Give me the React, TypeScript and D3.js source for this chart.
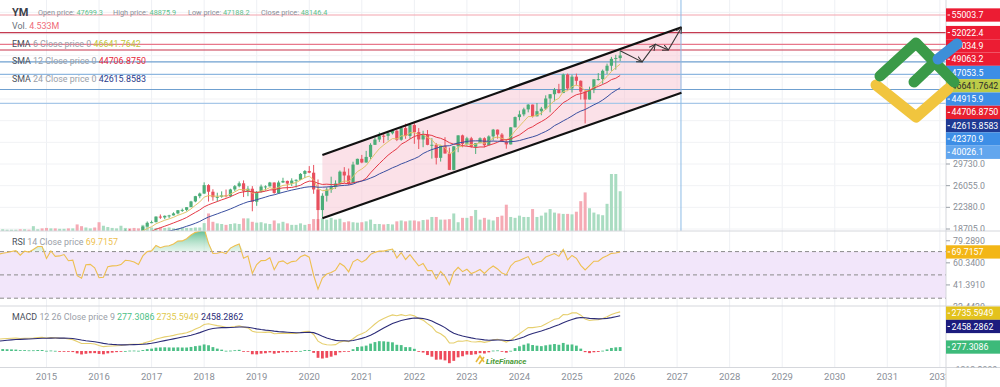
import React from "react";
import * as d3 from "d3";

// ---------- DATA (monthly YM, Jan 2012 .. Dec 2025) ----------
const firstYear = 2012;
const yearTicks = [2015, 2016, 2017, 2018, 2019, 2020, 2021, 2022, 2023, 2024, 2025, 2026, 2027, 2028, 2029, 2030, 2031, 2032];

const open = [
  12221, 12632, 12952, 13212, 13214, 12391, 12880, 13009, 13091, 13437, 13096, 13026,
  13104, 13861, 14054, 14579, 14840, 15116, 14910, 15500, 14810, 15130, 15546, 16086,
  16577, 15699, 16322, 16458, 16581, 16717, 16827, 16563, 17098, 17043, 17391, 17828,
  17823, 17165, 18133, 17776, 17841, 18011, 17620, 17690, 16528, 16285, 17664, 17720,
  17425, 16466, 16517, 17685, 17774, 17787, 17930, 18432, 18401, 18308, 18142, 19124,
  19763, 19864, 20812, 20663, 20941, 21009, 21350, 21891, 21948, 22405, 23377, 24272,
  24719, 26149, 25029, 24103, 24163, 24416, 24271, 25415, 25965, 26458, 25116, 25538,
  23327, 24999, 25916, 25929, 26593, 24815, 26600, 26864, 26403, 26917, 27046, 28051,
  28538, 28256, 25409, 21917, 24346, 25383, 25813, 26428, 28430, 27782, 26502, 29638,
  30606, 29983, 30932, 32982, 33875, 34529, 34503, 34935, 35361, 33844, 35820, 34484,
  36338, 35132, 33893, 34678, 32977, 32990, 30775, 32845, 31510, 28726, 32733, 34590,
  33147, 34086, 32657, 33274, 34098, 32908, 34408, 35560, 34722, 33508, 33053, 35951,
  37690, 38150, 38996, 39807, 37816, 38686, 39119, 40843, 41563, 42330, 41763, 44911,
  42544, 44545, 43841, 42002, 40669, 42270, 44095, 44131, 45545, 46398, 47563, 47699.3,
];
const high = [
  12842, 13055, 13290, 13309, 13338, 12898, 13159, 13331, 13653, 13661, 13290, 13365,
  13969, 14150, 14585, 14888, 15542, 15340, 15634, 15658, 15710, 15722, 16174, 16589,
  16588, 16398, 16589, 16631, 16736, 16978, 17152, 17153, 17350, 17395, 17895, 18103,
  17951, 18244, 18289, 18175, 18351, 18105, 18137, 17750, 16934, 17800, 17978, 17900,
  17425, 16752, 17716, 18168, 17935, 18016, 18622, 18668, 18450, 18400, 19226, 19987,
  20126, 20851, 21169, 21006, 21113, 21535, 21929, 22179, 22420, 23485, 24328, 24876,
  26617, 26307, 25450, 24858, 25087, 25402, 25539, 26168, 26769, 26951, 25980, 25980,
  25149, 26242, 26110, 26696, 26605, 26907, 27398, 26918, 27306, 27130, 28175, 28701,
  29374, 29568, 27102, 24765, 25758, 27580, 26955, 28630, 29199, 28958, 30117, 30637,
  31272, 31961, 33259, 34257, 35091, 34849, 35171, 35631, 35510, 35892, 36565, 36679,
  36952, 35824, 35372, 35493, 34118, 33272, 32846, 34282, 32504, 32772, 34590, 34712,
  34342, 34335, 33273, 34257, 34257, 34589, 35679, 35578, 34979, 33965, 35989, 37778,
  38783, 39282, 39889, 39807, 40077, 39417, 41376, 41585, 42628, 43325, 45074, 45073,
  44882, 45054, 43922, 42250, 42842, 44095, 45152, 45757, 46758, 47900, 48254, 48875.9,
];
const low = [
  12221, 12630, 12746, 12710, 12035, 12101, 12492, 12915, 12977, 12999, 12471, 12884,
  13104, 13745, 14054, 14434, 14740, 14551, 14910, 14760, 14777, 14720, 15340, 15703,
  15699, 15340, 16016, 16015, 16334, 16659, 16563, 16333, 16945, 15855, 17240, 17067,
  17136, 17038, 17585, 17675, 17825, 17596, 17465, 15370, 15942, 16013, 17320, 17139,
  15450, 15503, 16510, 17484, 17331, 17063, 17713, 18289, 17992, 17959, 17883, 19121,
  19678, 19832, 20413, 20379, 20554, 20999, 21197, 21600, 21709, 22416, 23242, 23922,
  24660, 23360, 23509, 23345, 23998, 24052, 24083, 25124, 25770, 24123, 24268, 21713,
  22638, 24883, 25208, 25929, 24680, 24680, 26510, 25339, 25979, 25743, 27046, 27326,
  28170, 24681, 18213, 20735, 23361, 24843, 25523, 26130, 26537, 26143, 26502, 29638,
  29856, 29983, 30547, 32982, 33473, 33272, 33741, 34741, 33613, 33677, 34006, 34006,
  33150, 32272, 32578, 32913, 30636, 29653, 30143, 31508, 28715, 28661, 31727, 32573,
  32812, 32500, 31430, 33235, 32586, 32908, 33705, 34029, 33460, 32327, 33053, 35951,
  37122, 37824, 38487, 37612, 37816, 38004, 38904, 38499, 40348, 41690, 41763, 42232,
  41845, 43041, 40661, 36612, 40669, 41750, 43899, 43340, 45000, 45540, 45728, 47188.2,
];
const close = [
  12633, 12952, 13212, 13214, 12393, 12880, 13009, 13091, 13437, 13096, 13026, 13104,
  13861, 14054, 14579, 14840, 15116, 14910, 15500, 14810, 15130, 15546, 16086, 16577,
  15699, 16322, 16458, 16581, 16717, 16827, 16563, 17098, 17043, 17391, 17828, 17823,
  17165, 18133, 17776, 17841, 18011, 17620, 17690, 16528, 16285, 17664, 17720, 17425,
  16466, 16517, 17685, 17774, 17787, 17930, 18432, 18401, 18308, 18142, 19124, 19763,
  19864, 20812, 20663, 20941, 21009, 21350, 21891, 21948, 22405, 23377, 24272, 24719,
  26149, 25029, 24103, 24163, 24416, 24271, 25415, 25965, 26458, 25116, 25538, 23327,
  24999, 25916, 25929, 26593, 24815, 26600, 26864, 26403, 26917, 27046, 28051, 28538,
  28256, 25409, 21917, 24346, 25383, 25813, 26428, 28430, 27782, 26502, 29638, 30606,
  29983, 30932, 32982, 33875, 34529, 34503, 34935, 35361, 33844, 35820, 34484, 36338,
  35132, 33893, 34678, 32977, 32990, 30775, 32845, 31510, 28726, 32733, 34590, 33147,
  34086, 32657, 33274, 34098, 32908, 34408, 35560, 34722, 33508, 33053, 35951, 37690,
  38150, 38996, 39807, 37816, 38686, 39119, 40843, 41563, 42330, 41763, 44911, 42544,
  44545, 43841, 42002, 40669, 42270, 44095, 44131, 45545, 46398, 47563, 47716, 48146.4,
];
// volume in millions
const volume = [
  0.2, 0.2, 0.2, 0.2, 0.2, 0.2, 0.2, 0.2, 0.2, 0.2, 0.2, 0.2,
  0.2, 0.2, 0.2, 0.2, 0.2, 0.2, 0.2, 0.2, 0.2, 0.2, 0.2, 0.2,
  0.2, 0.2, 0.2, 0.15, 0.15, 0.15, 0.2, 0.2, 0.15, 0.55, 0.2, 0.3,
  0.35, 0.3, 0.3, 0.25, 0.25, 0.3, 0.3, 0.75, 0.55, 0.4, 0.3, 0.4,
  1.0, 0.6, 0.45, 0.35, 0.3, 0.6, 0.35, 0.3, 0.35, 0.3, 0.7, 0.6,
  0.4, 0.35, 0.4, 0.35, 0.4, 0.3, 0.3, 0.4, 0.35, 0.35, 0.4, 0.4,
  0.9, 2.0, 1.05, 0.87, 0.8, 0.7, 0.8, 0.87, 0.8, 1.44, 1.44, 1.05,
  0.95, 1.0, 0.87, 0.8, 1.2, 0.87, 1.05, 0.87, 0.7, 0.7, 0.87, 0.7,
  0.8, 1.36, 1.36, 1.44, 1.3, 1.5, 1.3, 1.4, 1.0, 1.1, 1.0, 0.95,
  1.0, 1.1, 1.3, 0.8, 0.8, 0.75, 0.8, 0.75, 1.1, 1.2, 1.1, 1.2,
  1.2, 1.1, 1.25, 1.3, 1.6, 1.6, 1.3, 1.3, 1.35, 2.0, 1.0, 1.5,
  1.5, 1.7, 2.4, 1.3, 1.5, 1.3, 1.2, 1.6, 1.75, 3.0, 1.6, 1.5,
  1.75, 1.6, 1.6, 2.5, 1.6, 1.75, 2.1, 2.5, 2.1, 2.0, 1.95, 1.95,
  1.9, 2.2, 3.4, 4.4, 2.6, 2.1, 1.9, 1.8, 3.1, 6.5, 6.5, 4.533,
];

// horizontal levels drawn on the chart
const levelPrices = [55003.7, 52022.4, 50034.9, 49063.2, 47053.5, 44915.9, 42370.9, 40026.1];
const levelKinds = ["red", "red", "red", "red", "blue", "blue", "blue", "blue"];
// trend channel (month index from Jan 2012, price)
const channelUpper = [[99, 31255], [181, 52913]];
const channelLower = [[99, 20520], [181, 41822]];
// forecast path
const forecastPath = [[167, 48945], [172, 47053], [175, 50035], [178, 49063], [181, 52900]];
// values printed in legends
const header = { open: "47699.3", high: "48875.9", low: "47188.2", close: "48146.4", vol: "4.533M" };
const emaLast = 46641.7642, sma12Last = 44706.875, sma24Last = 42615.8583;
const rsiLast = 69.7157;
const macdLast = 2735.5949, signalLast = 2458.2862, histLast = 277.3086;
const priceTicks = [18705.0, 22380.0, 26055.0, 29730.0];
const rsiTicks = [79.289, 60.34, 41.391, 22.442];
const macdTicks = [-1313.299];

// ---------- indicators ----------
function sma(a: number[], n: number) {
  return a.map((_, i) => (i < n - 1 ? null : d3.mean(a.slice(i - n + 1, i + 1)) as number));
}
function ema(a: number[], n: number) {
  const k = 2 / (n + 1);
  const out: number[] = [];
  a.forEach((v, i) => out.push(i === 0 ? v : v * k + out[i - 1] * (1 - k)));
  return out;
}
function rsi(a: number[], n: number) {
  const out: (number | null)[] = a.map(() => null);
  let g = 0, l = 0;
  for (let i = 1; i <= n; i++) { const d = a[i] - a[i - 1]; if (d > 0) g += d; else l -= d; }
  g /= n; l /= n;
  out[n] = 100 - 100 / (1 + g / l);
  for (let i = n + 1; i < a.length; i++) {
    const d = a[i] - a[i - 1];
    g = (g * (n - 1) + Math.max(d, 0)) / n;
    l = (l * (n - 1) + Math.max(-d, 0)) / n;
    out[i] = l === 0 ? 100 : 100 - 100 / (1 + g / l);
  }
  return out;
}

const FONT = "Roboto, Arial, sans-serif";
const AX = 946;
const MAIN_B = 231, RSI_T = 231, RSI_B = 306, MACD_T = 306, MACD_B = 367.5;
const GREEN = "#4cad78", RED = "#e8505e";
const VGREEN = "#a9dcc1", VRED = "#f5aab4";
const LEVEL_COL: Record<string, string[]> = {
  red: ["#f4a3ae", "#c43a50", "#e8788b", "#c8354d"],
  blue: ["#6fa0d0", "#8fb8e0", "#6fa0d0", "#a8c8e8"],
};

export default function App() {
  const n = close.length;
  const idx = d3.range(n);
  const x = d3.scaleLinear().domain([36, 48]).range([46.5, 99.05]);
  const y = d3.scaleLinear().domain([18705, 55003.7]).range([229, 15]);
  const yV = d3.scaleLinear().domain([0, 6.5]).range([MAIN_B, 174]);
  const yR = d3.scaleLinear().domain([30, 70]).range([298.2, 251.6]);
  const yM = d3.scaleLinear().domain([0, 2800]).range([351, 311]);

  const ema6 = ema(close, 6);
  const s12 = sma(close, 12);
  const s24 = sma(close, 24);
  const r = rsi(close, 14);
  const e12 = ema(close, 12), e26 = ema(close, 26);
  const macd = e12.map((v, i) => v - e26[i]);
  const sig = ema(macd, 9);
  const hist = macd.map((v, i) => v - sig[i]);

  const lineP = (sc: any) =>
    d3.line<number | null>().defined((v) => v != null).x((_, i) => x(i)).y((v) => sc(v as number));

  const rsiArea = d3.area<number | null>()
    .defined((v) => v != null)
    .x((_, i) => x(i))
    .y0(yR(70))
    .y1((v) => yR(Math.max(v as number, 70)));

  // right-axis boxes, stacked to avoid overlap
  const boxes = [
    ...levelPrices.map((p, i) => ({
      v: p, text: p.toFixed(1),
      bg: levelKinds[i] === "red" ? "#ec1c33" : (p < 41000 ? "#62a6ee" : "#3d8ee6"), fg: "#fff",
    })),
    { v: emaLast, text: emaLast.toFixed(4), bg: "#bccb48", fg: "#2b2b2b" },
    { v: sma12Last, text: sma12Last.toFixed(4), bg: "#e8202f", fg: "#fff" },
    { v: sma24Last, text: sma24Last.toFixed(4), bg: "#1f3a93", fg: "#fff" },
  ].sort((a, b) => b.v - a.v);
  const BH = 13.3;
  let prev = -100;
  const placed = boxes.map((b) => {
    const yy = Math.max(y(b.v), prev + BH);
    prev = yy;
    return { ...b, y: yy };
  });

  const macdBoxes = [
    { v: macdLast, text: macdLast.toFixed(4), bg: "#e3c21c", fg: "#fff" },
    { v: signalLast, text: signalLast.toFixed(4), bg: "#1c1c7e", fg: "#fff" },
    { v: histLast, text: histLast.toFixed(4), bg: "#3dba7a", fg: "#fff" },
  ];
  let prevM = MACD_T - BH / 2 + 0.5;
  const placedM = macdBoxes.map((b) => {
    const yy = Math.max(yM(b.v), prevM + BH);
    prevM = yy;
    return { ...b, y: yy };
  });

  const yearX = (yr: number) => x((yr - firstYear) * 12);
  const priceGrid = d3.range(0, 11).map((k) => 18705 + k * 3675);
  const BF = 8.8;

  return (
    <svg width={1000} height={387} style={{ position: "absolute", left: 0, top: 0, background: "#fff" }} fontFamily={FONT}>
      <defs>
        <clipPath id="cMain"><rect x={0} y={0} width={AX} height={MAIN_B} /></clipPath>
        <clipPath id="cRsi"><rect x={0} y={RSI_T} width={AX} height={RSI_B - RSI_T} /></clipPath>
        <clipPath id="cMacd"><rect x={0} y={MACD_T} width={AX} height={MACD_B - MACD_T} /></clipPath>
        <clipPath id="cAxisMain"><rect x={AX} y={0} width={60} height={MAIN_B} /></clipPath>
        <clipPath id="cAxisRsi"><rect x={AX} y={RSI_T} width={60} height={RSI_B - RSI_T} /></clipPath>
        <clipPath id="cAxisMacd"><rect x={AX} y={MACD_T} width={60} height={MACD_B - MACD_T} /></clipPath>
        <clipPath id="cX"><rect x={0} y={MACD_B} width={AX} height={30} /></clipPath>
        <linearGradient id="gRsi" x1="0" y1="0" x2="0" y2="1">
          <stop offset="0" stopColor="#2fa86e" stopOpacity={0.85} />
          <stop offset="1" stopColor="#bfe8d2" stopOpacity={0.4} />
        </linearGradient>
        <marker id="ah" markerWidth={7} markerHeight={7} refX={6} refY={3.5} orient="auto" markerUnits="userSpaceOnUse">
          <path d="M0,0.5 L6,3.5 L0,6.5" fill="none" stroke="#333" strokeWidth={1} />
        </marker>
      </defs>

      {/* vertical year grid */}
      {yearTicks.map((yr) => (
        <line key={"vg" + yr} x1={yearX(yr)} x2={yearX(yr)} y1={0} y2={MACD_B} stroke="#eef0f4" strokeWidth={1} />
      ))}

      {/* ---------- MAIN PANE ---------- */}
      <g clipPath="url(#cMain)">
        {priceGrid.map((p) => (
          <line key={"hg" + p} x1={0} x2={AX} y1={y(p)} y2={y(p)} stroke="#f1f2f5" />
        ))}
        {/* channel fill */}
        <path
          d={`M${x(channelUpper[0][0])},${y(channelUpper[0][1])} L${x(channelUpper[1][0])},${y(channelUpper[1][1])} L${x(channelLower[1][0])},${y(channelLower[1][1])} L${x(channelLower[0][0])},${y(channelLower[0][1])} Z`}
          fill="#f7c9d6" fillOpacity={0.55}
        />
        {/* levels */}
        {levelPrices.map((p, i) => (
          <line key={"lv" + i} x1={0} x2={AX} y1={y(p)} y2={y(p)}
            stroke={LEVEL_COL[levelKinds[i]][i % 4]} strokeWidth={1.2} />
        ))}
        {/* vertical marker */}
        <line x1={x(channelUpper[1][0]) - 0.5} x2={x(channelUpper[1][0]) - 0.5} y1={0} y2={MAIN_B} stroke="#8dbbe6" strokeWidth={1} />
        {/* volume */}
        {idx.map((i) => (
          <rect key={"v" + i} x={x(i) - 1.5} width={3} y={yV(volume[i])} height={MAIN_B - yV(volume[i])}
            fill={close[i] >= open[i] ? VGREEN : VRED} />
        ))}
        {/* candles */}
        {idx.map((i) => {
          const up = close[i] >= open[i];
          const c = up ? GREEN : RED;
          const top = y(Math.max(open[i], close[i]));
          const bot = y(Math.min(open[i], close[i]));
          return (
            <g key={"c" + i}>
              <line x1={x(i)} x2={x(i)} y1={y(high[i])} y2={y(low[i])} stroke={c} strokeWidth={1} />
              <rect x={x(i) - 1.6} width={3.2} y={top} height={Math.max(1, bot - top)} fill={c} />
            </g>
          );
        })}
        {/* moving averages */}
        <path d={lineP(y)(ema6) || ""} fill="none" stroke="#e2c46a" strokeWidth={1} />
        <path d={lineP(y)(s12) || ""} fill="none" stroke="#e53946" strokeWidth={1} />
        <path d={lineP(y)(s24) || ""} fill="none" stroke="#3a4fa0" strokeWidth={1} />
        {/* channel lines */}
        <line x1={x(channelUpper[0][0])} y1={y(channelUpper[0][1])} x2={x(channelUpper[1][0])} y2={y(channelUpper[1][1])} stroke="#111" strokeWidth={2.2} />
        <line x1={x(channelLower[0][0])} y1={y(channelLower[0][1])} x2={x(channelLower[1][0])} y2={y(channelLower[1][1])} stroke="#111" strokeWidth={2.2} />
        {/* forecast path */}
        {forecastPath.slice(1).map((pt, k) => (
          <line key={"fp" + k} x1={x(forecastPath[k][0])} y1={y(forecastPath[k][1])} x2={x(pt[0])} y2={y(pt[1])}
            stroke="#333" strokeWidth={1.1} markerEnd="url(#ah)" />
        ))}
      </g>

      {/* ---------- RSI PANE ---------- */}
      <g clipPath="url(#cRsi)">
        <rect x={0} width={AX} y={yR(70)} height={yR(30) - yR(70)} fill="#f2e6fa" />
        {[70, 50, 30].map((v) => (
          <line key={"rl" + v} x1={0} x2={AX} y1={yR(v)} y2={yR(v)} stroke="#8a8a8a" strokeDasharray="4,3" strokeWidth={1} />
        ))}
        <path d={rsiArea(r) || ""} fill="url(#gRsi)" />
        <path d={lineP(yR)(r) || ""} fill="none" stroke="#eebf4f" strokeWidth={1.1} />
      </g>

      {/* ---------- MACD PANE ---------- */}
      <g clipPath="url(#cMacd)">
        {idx.map((i) => (
          <rect key={"h" + i} x={x(i) - 1.4} width={2.8}
            y={Math.min(yM(hist[i]), yM(0))} height={Math.max(0.8, Math.abs(yM(hist[i]) - yM(0)))}
            fill={hist[i] >= 0 ? "#4cbf86" : "#ee4a5b"} />
        ))}
        <path d={lineP(yM)(macd) || ""} fill="none" stroke="#e6cf6e" strokeWidth={1.1} />
        <path d={lineP(yM)(sig) || ""} fill="none" stroke="#2c2c78" strokeWidth={1.1} />
        <text x={486} y={364} fontSize={8} fontStyle="italic" fontWeight={700} fill="#4d9c3a">LiteFinance</text>
        <path d="M476,362 l4,-6 l4,6 M479,364 l5,-7" stroke="#e9b93a" strokeWidth={1.6} fill="none" />
      </g>

      {/* separators and axis line */}
      <line x1={0} x2={1000} y1={MAIN_B} y2={MAIN_B} stroke="#d5d7dc" />
      <line x1={0} x2={1000} y1={RSI_B} y2={RSI_B} stroke="#d5d7dc" />
      <line x1={0} x2={1000} y1={MACD_B} y2={MACD_B} stroke="#d5d7dc" />
      <line x1={AX} x2={AX} y1={0} y2={387} stroke="#d5d7dc" />

      {/* x axis labels */}
      <g clipPath="url(#cX)">
        {yearTicks.map((yr) => (
          <text key={"xt" + yr} x={yearX(yr)} y={380} fontSize={9.5} fill="#8a8f98" textAnchor="middle">{yr}</text>
        ))}
      </g>

      {/* right axis: ticks */}
      <g clipPath="url(#cAxisMain)" fontSize={BF} fill="#8a8f98">
        {priceTicks.map((p) => (
          <g key={"pt" + p}>
            <line x1={AX} x2={AX + 4} y1={y(p)} y2={y(p)} stroke="#9aa0a8" />
            <text x={AX + 7} y={y(p) + 3.1}>{p.toFixed(1)}</text>
          </g>
        ))}
        {placed.map((b, i) => (
          <g key={"bx" + i}>
            <rect x={AX} y={b.y - BH / 2} width={56} height={BH} fill={b.bg} />
            <line x1={AX + 1.5} x2={AX + 4} y1={b.y} y2={b.y} stroke={b.fg} strokeWidth={1} />
            <text x={AX + 5.5} y={b.y + 3.1} fill={b.fg} fontSize={BF}>{b.text}</text>
          </g>
        ))}
      </g>
      <g clipPath="url(#cAxisRsi)" fontSize={BF} fill="#8a8f98">
        {rsiTicks.map((v) => (
          <g key={"rt" + v}>
            <line x1={AX} x2={AX + 4} y1={yR(v)} y2={yR(v)} stroke="#9aa0a8" />
            <text x={AX + 7} y={yR(v) + 3.1}>{v.toFixed(4)}</text>
          </g>
        ))}
        <rect x={AX} y={yR(rsiLast) - BH / 2} width={56} height={BH} fill="#f3b616" />
        <line x1={AX + 1.5} x2={AX + 4} y1={yR(rsiLast)} y2={yR(rsiLast)} stroke="#fff" />
        <text x={AX + 5.5} y={yR(rsiLast) + 3.1} fill="#fff" fontSize={BF}>{rsiLast.toFixed(4)}</text>
      </g>
      <g clipPath="url(#cAxisMacd)" fontSize={BF} fill="#8a8f98">
        {macdTicks.map((v) => (
          <g key={"mt" + v}>
            <line x1={AX} x2={AX + 4} y1={yM(v)} y2={yM(v)} stroke="#9aa0a8" />
            <text x={AX + 7} y={yM(v) + 3.1}>{v.toFixed(4)}</text>
          </g>
        ))}
        {placedM.map((b, i) => (
          <g key={"mb" + i}>
            <rect x={AX} y={b.y - BH / 2} width={56} height={BH} fill={b.bg} />
            <line x1={AX + 1.5} x2={AX + 4} y1={b.y} y2={b.y} stroke={b.fg} />
            <text x={AX + 5.5} y={b.y + 3.1} fill={b.fg} fontSize={BF}>{b.text}</text>
          </g>
        ))}
      </g>

      {/* legends */}
      <text x={12} y={16} fontSize={11} fontWeight={700} fill="#3a3f4a">YM</text>
      <text x={38} y={15} fontSize={7.3} fill="#8a8f98">
        Open price: <tspan fill="#5cbf8c">{header.open}</tspan>
        <tspan x={113}>High price: </tspan><tspan fill="#5cbf8c">{header.high}</tspan>
        <tspan x={188}>Low price: </tspan><tspan fill="#5cbf8c">{header.low}</tspan>
        <tspan x={261}>Close price: </tspan><tspan fill="#5cbf8c">{header.close}</tspan>
      </text>
      <g fontSize={8.9}>
        <text x={12} y={29} fill="#6a707a">Vol.  <tspan fill="#ef6a78">{header.vol}</tspan></text>
        <text x={12} y={46.5} fill="#4a505a">EMA <tspan fill="#9aa0a8">6 Close price 0 </tspan><tspan fill="#c0c83a">{emaLast.toFixed(4)}</tspan></text>
        <text x={12} y={64} fill="#4a505a">SMA <tspan fill="#9aa0a8">12 Close price 0 </tspan><tspan fill="#e5283a">{sma12Last.toFixed(4)}</tspan></text>
        <text x={12} y={81.5} fill="#4a505a">SMA <tspan fill="#9aa0a8">24 Close price 0 </tspan><tspan fill="#2a3a8a">{sma24Last.toFixed(4)}</tspan></text>
        <text x={12} y={245} fill="#4a505a">RSI <tspan fill="#9aa0a8">14 Close price </tspan><tspan fill="#eebf4f">{rsiLast.toFixed(4)}</tspan></text>
        <text x={12} y={320} fill="#4a505a">MACD <tspan fill="#9aa0a8">12 26 Close price 9 </tspan><tspan fill="#4cbf86">{histLast.toFixed(4)}</tspan> <tspan fill="#e0c84a">{macdLast.toFixed(4)}</tspan> <tspan fill="#2c2c78">{signalLast.toFixed(4)}</tspan></text>
      </g>

      {/* logo watermark */}
      <g fill="none" strokeLinecap="round" strokeLinejoin="round" strokeWidth={11}>
        <polyline points="876,85 916,117 948,89" stroke="#f1c53e" />
        <polyline points="880,76 916,43 954,82" stroke="#3a9a48" />
        <line x1={914} y1={82} x2={936} y2={61} stroke="#3a9a48" />
        <line x1={938} y1={59} x2={957} y2={44} stroke="#3d8fd8" />
      </g>
    </svg>
  );
}
